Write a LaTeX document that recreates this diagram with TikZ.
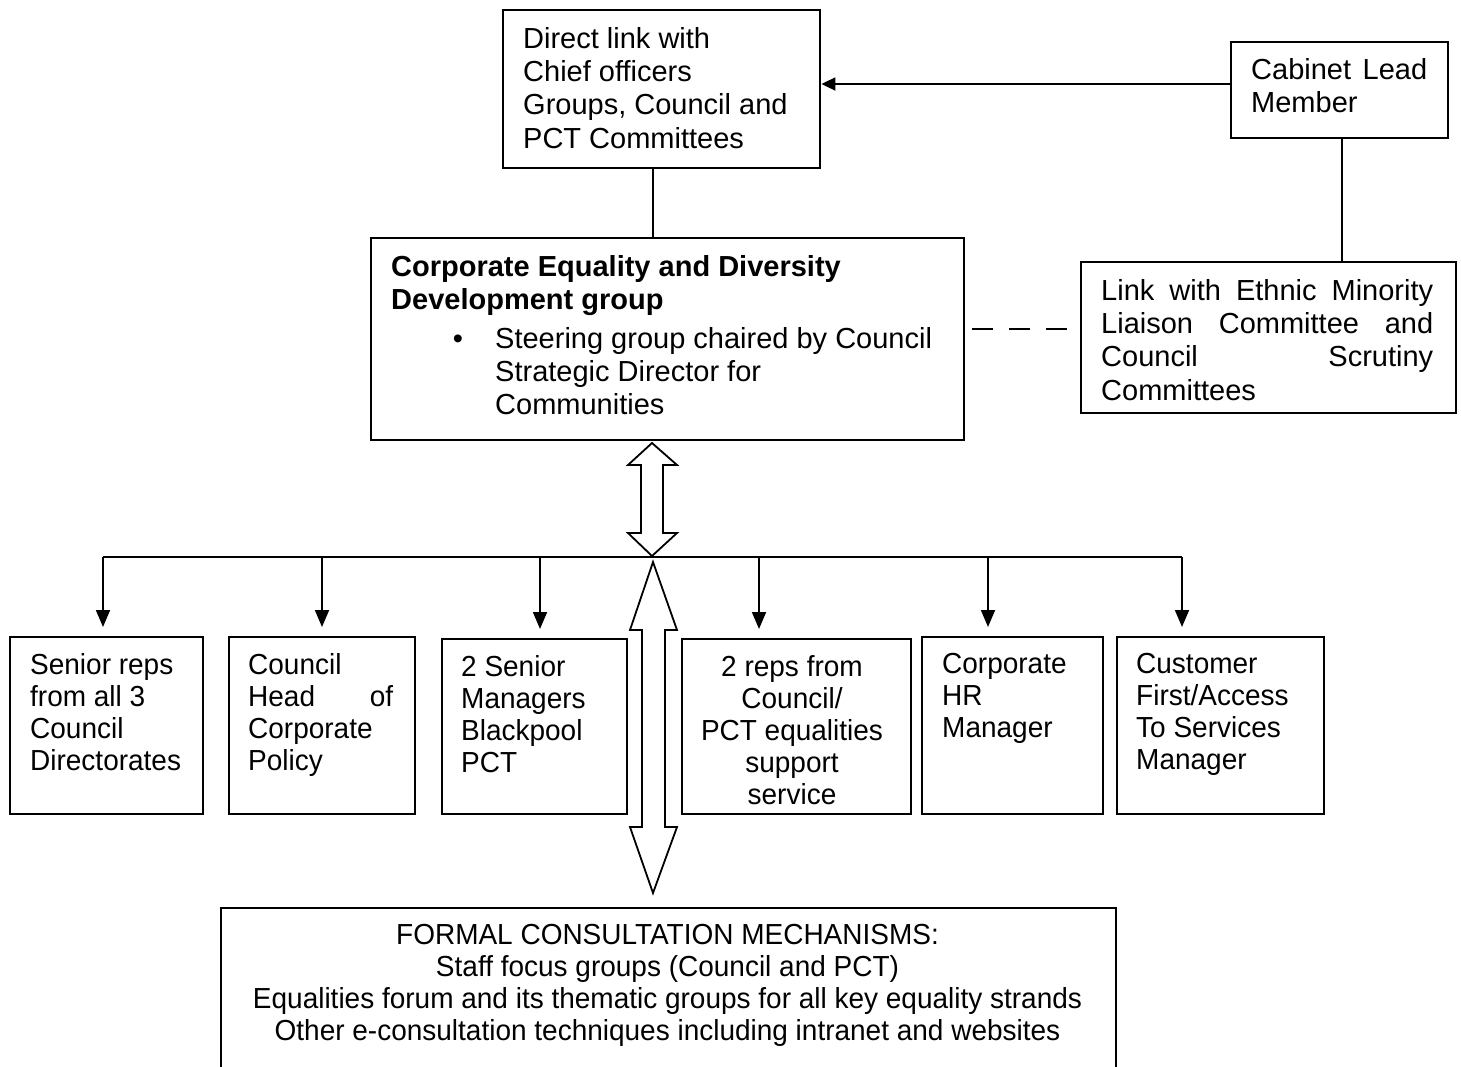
\documentclass[tikz,border=0pt]{standalone}
\usepackage{fontspec}
\setmainfont{Liberation Sans}
\newfontfamily\lowfont[FakeStretch=0.965]{Liberation Sans}
\usetikzlibrary{arrows.meta}
\begin{document}
\begin{tikzpicture}[x=1pt,y=-1pt,
  box/.style={draw, line width=2.4pt, inner sep=0pt, anchor=north west},
  txt/.style={inner sep=0pt, anchor=north west, align=left, font=\fontsize{29}{33.3}\selectfont},
  txtlow/.style={inner sep=0pt, anchor=north west, align=left, font=\lowfont\fontsize{29}{32}\selectfont},
  jus/.style={inner sep=0pt, anchor=north west, align=justify, text width=#1, font=\fontsize{29}{33.3}\selectfont},
  juslow/.style={inner sep=0pt, anchor=north west, align=justify, text width=#1, font=\lowfont\fontsize{29}{32}\selectfont},
  conn/.style={line width=1.8pt},
  tipdown/.style={-{Triangle[length=17pt,width=14pt]}},
  dbl/.style={draw, line width=1.8pt, fill=white, line join=miter},
]
\useasboundingbox (0,0) rectangle (1461,1066);
\fill[white] (0,0) rectangle (1461,1066);
\clip (0,0) rectangle (1461,1066);

% boxes
\node[box, minimum width=317pt, minimum height=158pt] (direct) at (502,9) {};
\node[box, minimum width=217pt, minimum height=96pt] (cabinet) at (1230,41) {};
\node[box, minimum width=593pt, minimum height=202pt] (main) at (370,237) {};
\node[box, minimum width=375pt, minimum height=151pt] (link) at (1080,261) {};
\node[box, minimum width=193pt, minimum height=177pt] (b1) at (9,636) {};
\node[box, minimum width=186pt, minimum height=177pt] (b2) at (228,636) {};
\node[box, minimum width=185pt, minimum height=175pt] (b3) at (441,638) {};
\node[box, minimum width=229pt, minimum height=175pt] (b4) at (681,638) {};
\node[box, minimum width=181pt, minimum height=177pt] (b5) at (921,636) {};
\node[box, minimum width=207pt, minimum height=177pt] (b6) at (1116,636) {};
\node[box, minimum width=895pt, minimum height=220pt] (formal) at (220,907) {};

% texts
\node[txt] (tdirect) at (523,27) {Direct link with\\Chief officers\\Groups, Council and\\PCT Committees};
\node[jus=176pt] (tcabinet) at (1251,58) {Cabinet Lead\linebreak Member};
\node[txt] (tmain) at (391,255) {\textbf{Corporate Equality and Diversity}\\\textbf{Development group}};
\node[inner sep=0pt, anchor=base, font=\fontsize{29}{33.3}\selectfont] (bul) at (458,348) {\textbullet};
\node[txt] (tsteer) at (495,327) {Steering group chaired by Council\\Strategic Director for\\Communities};
\node[jus=332pt] (tlink) at (1101,279) {Link with Ethnic Minority\linebreak Liaison Committee and\linebreak Council Scrutiny\linebreak Committees};
\node[txtlow] (tb1) at (30,653) {Senior reps\\from all 3\\Council\\Directorates};
\node[juslow=145pt] (tb2) at (248,653) {Council\\Head of\linebreak Corporate\\Policy};
\node[txtlow] (tb3) at (461,655) {2 Senior\\Managers\\Blackpool\\PCT};
\node[txtlow, anchor=north, align=center] (tb4) at (792,655) {2 reps from\\Council/\\PCT equalities\\support\\service};
\node[txtlow] (tb5) at (942,653) {Corporate\\HR\\Manager};
\node[txtlow] (tb6) at (1136,653) {Customer\\First/Access\\To Services\\Manager};
\node[txtlow, anchor=north, align=center] (tformal) at (667.5,924) {FORMAL CONSULTATION MECHANISMS:\\Staff focus groups (Council and PCT)\\Equalities forum and its thematic groups for all key equality strands\\Other e-consultation techniques including intranet and websites};

% connectors
\draw[conn] (653,0 |- direct.south) -- (653,0 |- main.north);
\draw[conn, -{Triangle[length=14pt,width=13pt]}] (cabinet.west |- 0,84) -- (direct.east |- 0,84);
\draw[conn] (1342,0 |- cabinet.south) -- (1342,0 |- link.north);
\draw[conn, dash pattern=on 21pt off 16pt, dash phase=30pt] (main.east |- 0,329) -- (link.west |- 0,329);

% bus
\coordinate (busL) at (103,557);
\coordinate (busR) at (1182,557);
\draw[conn] (busL) -- (busR);
\foreach \x/\n in {103/b1, 322/b2, 540/b3, 759/b4, 988/b5, 1182/b6}{
  \draw[conn, tipdown, shorten >=9pt] (\x,557) -- (\x,0 |- \n.north);
}

% double arrows
\draw[dbl] (652,443) -- (677,465) -- (663,465) -- (663,533) -- (677,533) -- (652,556) -- (628,533) -- (641,533) -- (641,465) -- (628,465) -- cycle;
\draw[dbl] (653,562) -- (677,630) -- (665,630) -- (665,827) -- (677,827) -- (653,893) -- (630,827) -- (642,827) -- (642,630) -- (630,630) -- cycle;
\end{tikzpicture}
\end{document}
